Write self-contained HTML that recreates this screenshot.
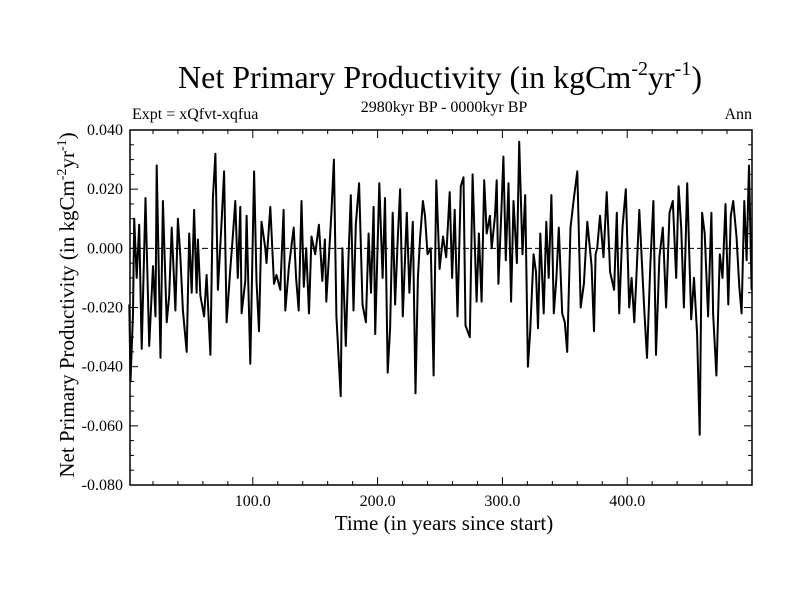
<!DOCTYPE html>
<html><head><meta charset="utf-8"><style>
body{margin:0;background:#fff;}
svg text{font-family:"Liberation Serif",serif;fill:#000;}
</style></head><body>
<svg width="800" height="600" viewBox="0 0 800 600">
<text x="440" y="88" font-size="32" text-anchor="middle">Net Primary Productivity (in kgCm<tspan font-size="20" dy="-13">-2</tspan><tspan dy="13">yr</tspan><tspan font-size="20" dy="-13">-1</tspan><tspan dy="13">)</tspan></text>
<text x="444" y="112" font-size="16" text-anchor="middle">2980kyr BP - 0000kyr BP</text>
<text x="132" y="119" font-size="16">Expt = xQfvt-xqfua</text>
<text x="752" y="119" font-size="16" text-anchor="end">Ann</text>
<g id="axes"></g>
<path id="series" fill="none" stroke="#000" stroke-width="2" stroke-linejoin="round"/>
<text x="444" y="530" font-size="21" text-anchor="middle">Time (in years since start)</text>
<text transform="translate(74,305) rotate(-90)" font-size="21" text-anchor="middle">Net Primary Productivity (in kgCm<tspan font-size="14" dy="-8">-2</tspan><tspan dy="8">yr</tspan><tspan font-size="14" dy="-8">-1</tspan><tspan dy="8">)</tspan></text>
</svg>
<script>
const years=[1,2,4,5,7,9,11,14,17,20,22,23,26,28,31,33,35,38,40,42,44,47,49,51,53,55,56,58,61,63,66,68,70,72,75,77,79,82,84,86,88,90,91,94,95,98,101,103,105,107,110,111,114,117,119,122,124.7,126,129,132.8,134.7,136.8,139,140.9,142.8,145,147,150,153,155.7,157.8,158.9,161,163,165,167,170.4,171.8,174.5,176.5,178.5,180.7,182.5,185.2,187.9,190.6,192.8,194.7,196.8,198.1,201.4,204,205.9,208.1,210,212.1,214,216,218,220.2,223.4,225.5,228.2,230.4,232.3,234,236.3,238,240,242.6,244.9,247,249.7,252.4,255,257.8,259.7,261.8,264,266.7,268.8,270.4,273.9,276.1,279.3,281.2,283.3,285.4,287.4,290,291.4,294.1,295.4,296.8,299,300.8,302.7,304.9,307,308.9,311.6,313.5,316.1,318.3,320.4,322.3,325,326.9,328.5,330.4,333.1,335.2,337.1,339.3,341.2,343.3,345.2,347.9,350,351.9,354.6,357.3,360,362.7,365.3,368,371.5,373.4,374.7,376,378.2,381,383.6,386.3,389.5,391.7,393.6,396.2,398.9,401.6,403.5,405.7,407.5,409.7,413.7,415.9,418.6,421,423.1,425.8,428.5,431.2,433.9,436.5,439.3,441.2,443.3,445.4,448.1,451.3,453.5,456,458.1,460,462.1,464.8,467.5,468.8,471.5,474.2,476.4,478.8,481,483,484.9,487.6,489.8,491.7,493.8,495.7,497.6,499.7];
const values=[-19,-45,-22,10,-10,8,-34,17,-33,-6,-23,28,-37,16,-25,-16,7,-21,10,-3,-21,-35,5,-15,13,-15,3,-16,-23,-9,-36,17,32,-14,9,26,-25,-7,4,16,-10,14,-22,-11,11,-39,26,-11,-28,9,0,-5,14,-12,-9,-14,13,-21,-6,7,-10,-21,16,-13,0,-22,4,-2,8,-11,3,-18,-3,12,30,-23,-50,0,-33,-5,18,-21,8,22,-19,-25,5,-15,14,-29,22,-10,17,-42,-27,12,-19,2,20,-23,12,-15,9,-49,-10,3,16,11,-2,0,-43,23,-7,4,-3,19,-10,13,-23,21,24,-26,-30,25,-18,5,-18,23,5,11,0,11,23,-12,11,31,-4,22,-18,16,-5,36,-2,18,-40,-28,-2,-8,-27,5,-22,9,-10,18,-22,-10,7,-22,-25,-35,7,17,26,-20,-12,9,-6,-28,-2,0,11,-3,19,-8,-14,12,-22,7,20,-20,-10,-25,-8,13,-21,-37,-5,16,-36,-3,7,-20,12,16,-10,21,7,-20,22,-24,-10,-29,-63,12,5,-23,12,-22,-43,-2,-10,15,-19,11,16,4,-13,-22,16,-4,28,-14,-14];
const xTicks=[100,200,300,400];
const xLabels=["100.0","200.0","300.0","400.0"];
const yTicks=[0.04,0.02,0,-0.02,-0.04,-0.06,-0.08];
const yLabels=["0.040","0.020","0.000","-0.020","-0.040","-0.060","-0.080"];
const X0=130,X1=752,Y0=130,Y1=485;
const xs=v=>X0+(v-1.6)*(X1-X0)/(500-1.6);
const ys=v=>Y1-(v+0.08)*(Y1-Y0)/0.12;
const ns="http://www.w3.org/2000/svg";
const ax=document.getElementById('axes');
function mk(t,a,p){const e=document.createElementNS(ns,t);for(const k in a)e.setAttribute(k,a[k]);(p||ax).appendChild(e);return e;}
const frame=mk('rect',{x:X0,y:Y0,width:X1-X0,height:Y1-Y0,fill:'none',stroke:'#000','stroke-width':1.5});


const zl=mk('line',{x1:X0,x2:X1,y1:ys(0),y2:ys(0),stroke:'#000','stroke-width':1,'stroke-dasharray':'6,3'});


for(let v=-0.08;v<=0.0401;v+=0.005){const y=ys(v);const major=Math.abs(Math.round(v*1000)%20)<0.5;const L=major?8:4;
mk('line',{x1:X0,x2:X0+L,y1:y,y2:y,stroke:'#000'});mk('line',{x1:X1,x2:X1-L,y1:y,y2:y,stroke:'#000'});}
for(let v=20;v<500;v+=20){const x=xs(v);const major=v%100===0;const L=major?8:4;
mk('line',{x1:x,x2:x,y1:Y1,y2:Y1-L,stroke:'#000'});mk('line',{x1:x,x2:x,y1:Y0,y2:Y0+L,stroke:'#000'});}
yTicks.forEach((v,i)=>{const t=mk('text',{x:X0-7,y:ys(v)+5,'font-size':16,'text-anchor':'end'});t.textContent=yLabels[i];

});
xTicks.forEach((v,i)=>{const t=mk('text',{x:xs(v),y:Y1+21,'font-size':16,'text-anchor':'middle'});t.textContent=xLabels[i];

});
let d='';years.forEach((yr,i)=>{d+=(i?'L':'M')+xs(yr).toFixed(1)+','+ys(values[i]/1000).toFixed(1);});
document.getElementById('series').setAttribute('d',d);
</script>
</body></html>
